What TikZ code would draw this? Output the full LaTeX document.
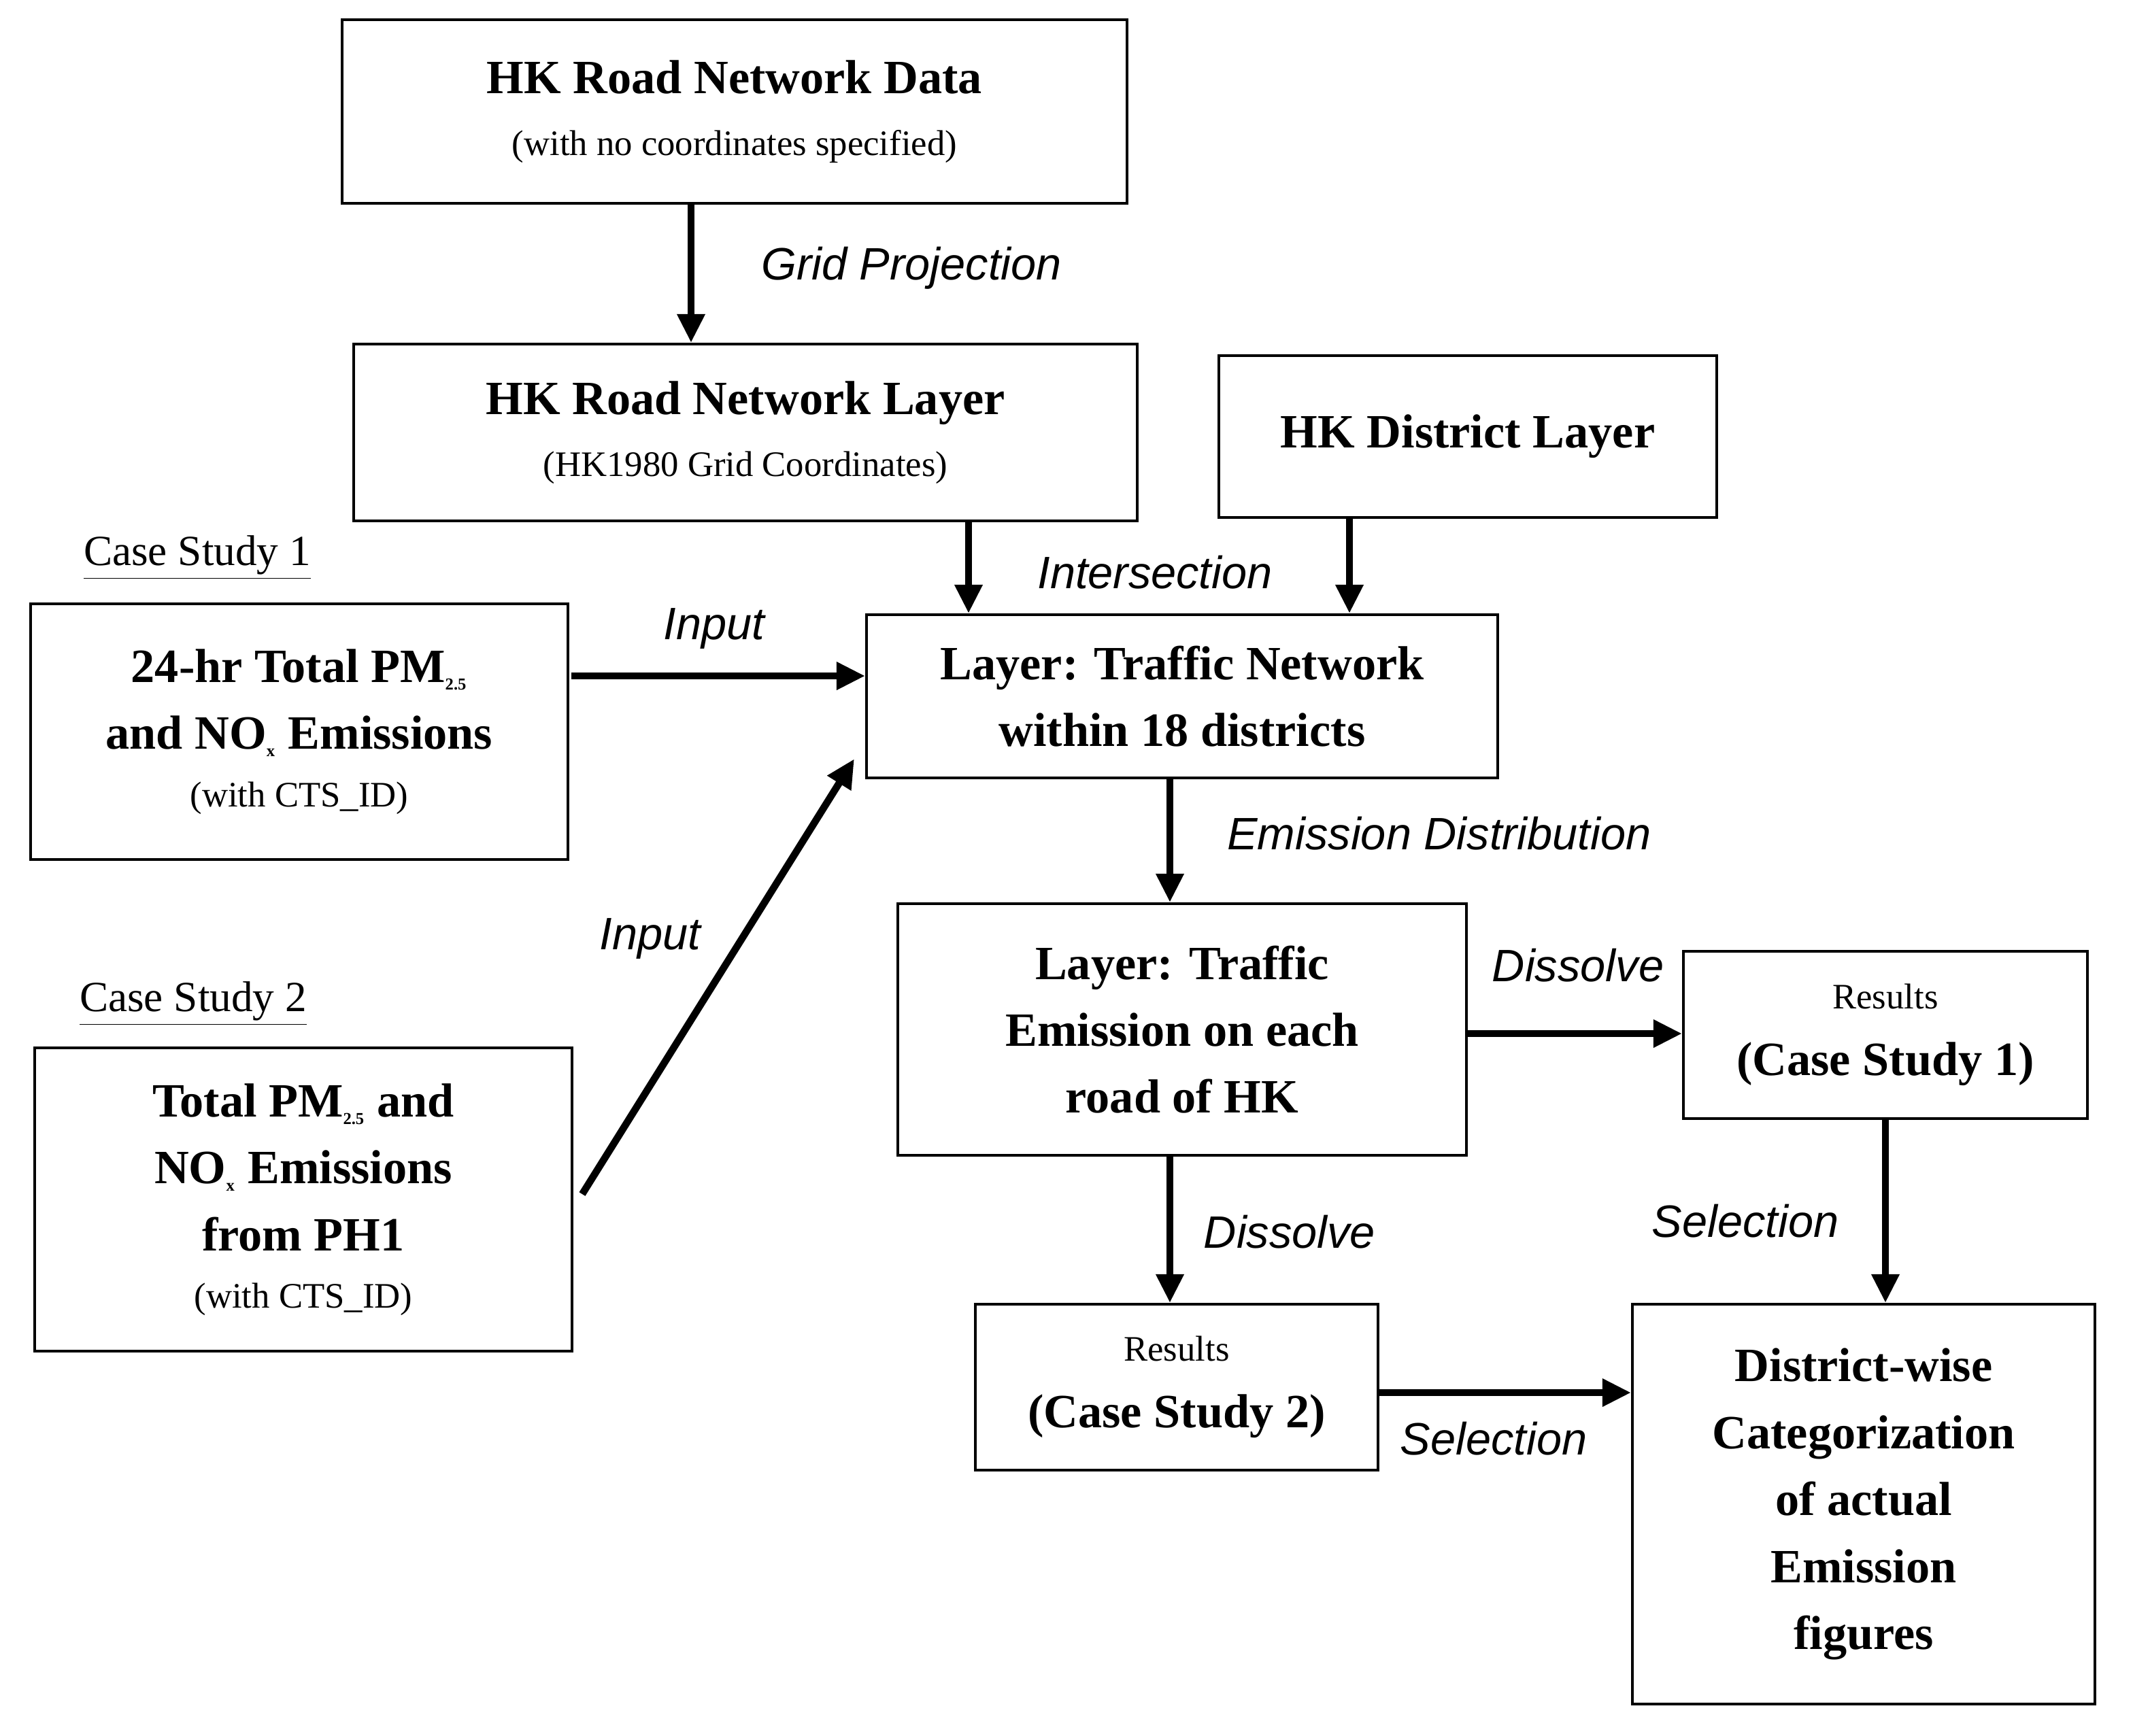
\documentclass[tikz,border=0pt]{standalone}
\usepackage{fontspec}
\setmainfont{Liberation Serif}
\newfontfamily\lab{Liberation Sans}
\usetikzlibrary{arrows.meta}
\newcommand{\sbs}[1]{\textsubscript{\scriptsize #1}}
\begin{document}
\begin{tikzpicture}[x=0.02cm,y=-0.02cm,
 box/.style={draw,line width=1.1pt,inner sep=0pt,align=center,font=\fontsize{20}{28}\selectfont},
 sm/.style={font=\fontsize{15}{20}\selectfont},
 arr/.style={line width=3pt,-{Triangle[length=12pt,width=11pt]}},
 lbl/.style={font=\lab\itshape\fontsize{19}{22}\selectfont}]
\useasboundingbox (0,0) rectangle (1568,1276);
\node[box,minimum width=577*0.02cm,minimum height=135*0.02cm] (a) at (540,82) {\textbf{HK Road Network Data}\\[-2pt]{\fontsize{15}{18}\selectfont (with no coordinates specified)}};
\node[box,minimum width=576*0.02cm,minimum height=130*0.02cm] (b) at (548,318) {\textbf{HK Road Network Layer}\\[-2pt]{\fontsize{15}{18}\selectfont (HK1980 Grid Coordinates)}};
\node[box,minimum width=366*0.02cm,minimum height=119*0.02cm] (c) at (1079,321) {\textbf{HK District Layer}};
\node[box,minimum width=395*0.02cm,minimum height=188*0.02cm] (d) at (220,538) {\textbf{24-hr Total PM\sbs{2.5}}\\\textbf{and NO\sbs{x} Emissions}\\[-4pt]{\fontsize{15}{18}\selectfont (with CTS\_ID)}};
\node[box,minimum width=464*0.02cm,minimum height=120*0.02cm] (e) at (869,512) {\textbf{Layer: Traffic Network}\\\textbf{within 18 districts}};
\node[box,minimum width=395*0.02cm,minimum height=223*0.02cm] (f) at (223,882) {\textbf{Total PM\sbs{2.5} and}\\\textbf{NO\sbs{x} Emissions}\\\textbf{from PH1}\\[-4pt]{\fontsize{15}{18}\selectfont (with CTS\_ID)}};
\node[box,minimum width=418*0.02cm,minimum height=185*0.02cm] (g) at (869,757) {\textbf{Layer: Traffic}\\\textbf{Emission on each}\\\textbf{road of HK}};
\node[box,minimum width=297*0.02cm,minimum height=123*0.02cm] (h) at (1386,761) {{\fontsize{15}{18}\selectfont Results}\\\textbf{(Case Study 1)}};
\node[box,minimum width=296*0.02cm,minimum height=122*0.02cm] (i) at (865,1020) {{\fontsize{15}{18}\selectfont Results}\\\textbf{(Case Study 2)}};
\node[box,minimum width=340*0.02cm,minimum height=294*0.02cm] (j) at (1370,1106) {\textbf{District-wise}\\\textbf{Categorization}\\\textbf{of actual}\\\textbf{Emission}\\\textbf{figures}};
\node[font=\fontsize{18}{20}\selectfont] (cs1) at (145,410) {\underline{Case Study 1}};
\node[font=\fontsize{18}{20}\selectfont] (cs2) at (142,738) {\underline{Case Study 2}};
\draw[arr] (a.south -| 508,0) -- (b.north -| 508,0);
\node[lbl] (l1) at (670,197) {Grid Projection};
\draw[arr] (b.south -| 712,0) -- (e.north -| 712,0);
\draw[arr] (c.south -| 992,0) -- (e.north -| 992,0);
\node[lbl] (l2) at (849,421) {Intersection};
\coordinate (p1) at (420,497);
\draw[arr] (p1) -- (e.west |- p1);
\node[lbl] (l3) at (525,462) {Input};
\coordinate (p2) at (428,878);
\coordinate (p3) at (628,558);
\draw[arr] (p2) -- (p3);
\node[lbl] (l4) at (478,690) {Input};
\draw[arr] (e.south -| 860,0) -- (g.north -| 860,0);
\node[lbl] (l5) at (1058,613) {Emission Distribution};
\coordinate (p4) at (1078,760);
\draw[arr] (p4) -- (h.west |- p4);
\node[lbl] (l6) at (1160,710) {Dissolve};
\draw[arr] (g.south -| 860,0) -- (i.north -| 860,0);
\node[lbl] (l7) at (948,906) {Dissolve};
\draw[arr] (h.south -| 1386,0) -- (j.north -| 1386,0);
\node[lbl] (l8) at (1283,898) {Selection};
\coordinate (p5) at (1013,1024);
\draw[arr] (p5) -- (j.west |- p5);
\node[lbl] (l9) at (1098,1058) {Selection};
\end{tikzpicture}
\end{document}
